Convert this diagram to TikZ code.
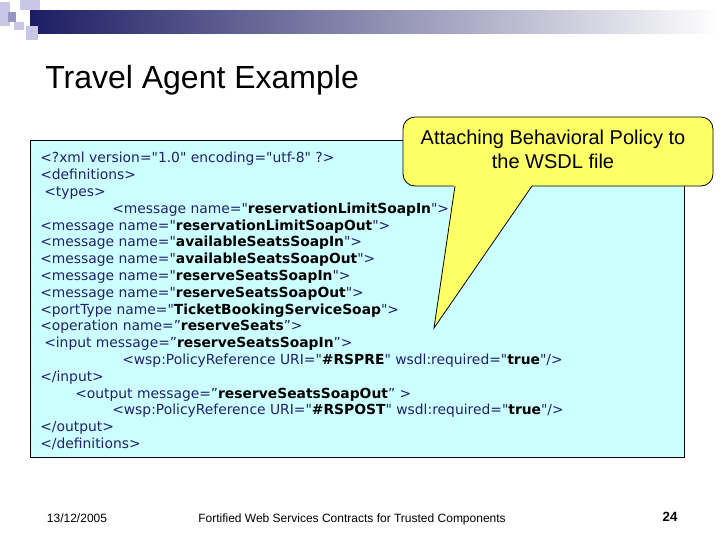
\documentclass[tikz,border=0pt]{standalone}
\usepackage{fontspec}
\setmainfont{Liberation Sans}
\newfontfamily\codefont{DejaVu Sans}
\definecolor{navy}{HTML}{20206F}
\definecolor{cyanbg}{HTML}{CCFFFF}
\definecolor{callout}{HTML}{FFFF66}
\definecolor{sq}{HTML}{C8C8E6}
\begin{document}
\begin{tikzpicture}[x=0.75pt,y=-0.75pt,
  code/.style={anchor=base west,inner sep=0pt,font=\codefont\fontsize{10.4}{12}\selectfont,text=navy},
  foot/.style={anchor=base,inner sep=0pt,font=\fontsize{9}{11}\selectfont}]
\useasboundingbox (0,0) rectangle (720,540);
% banner
\shade[left color=navy!90!black,right color=white] (30,10) rectangle (720,33);
\fill[sq] (0,2) rectangle (10,26);
\fill[sq] (20,0) rectangle (40,10);
\fill[sq] (26,26) rectangle (38,40);
\fill[sq!70!navy] (8,12) rectangle (16,22);
\fill[sq] (14,22) rectangle (24,30);
\node[anchor=base west,inner sep=0pt,font=\fontsize{24}{28}\selectfont] (title) at (45,88) {Travel Agent Example};
% code box
\draw[fill=cyanbg,line width=0.6pt] (30,140) rectangle (684,457);
\def\L#1{\textbf{\color{black}#1}}
\node[code] (l1) at (40,162) {<?xml version="1.0" encoding="utf-8" ?>};
\node[code] (l2) at (40,179) {<definitions>};
\node[code] (l3) at (44,196) {<types>};
\node[code] (l4) at (112,213) {<message name="\L{reservationLimitSoapIn}">};
\node[code] (l5) at (40,230) {<message name="\L{reservationLimitSoapOut}">};
\node[code] (l6) at (40,246) {<message name="\L{availableSeatsSoapIn}">};
\node[code] (l7) at (40,263) {<message name="\L{availableSeatsSoapOut}">};
\node[code] (l8) at (40,280) {<message name="\L{reserveSeatsSoapIn}">};
\node[code] (l9) at (40,297) {<message name="\L{reserveSeatsSoapOut}">};
\node[code] (l10) at (40,314) {<portType name="\L{TicketBookingServiceSoap}">};
\node[code] (l11) at (40,330) {<operation name=”\L{reserveSeats}”>};
\node[code] (l12) at (44,347) {<input message=”\L{reserveSeatsSoapIn}”>};
\node[code] (l13) at (122,364) {<wsp:PolicyReference URI="\L{\#RSPRE}" wsdl:required="\L{true}"/>};
\node[code] (l14) at (40,381) {</input>};
\node[code] (l15) at (75,398) {<output message=”\L{reserveSeatsSoapOut}” >};
\node[code] (l16) at (112,414) {<wsp:PolicyReference URI="\L{\#RSPOST}" wsdl:required="\L{true}"/>};
\node[code] (l17) at (40,431) {</output>};
\node[code] (l18) at (40,448) {</definitions>};
% callout
\draw[fill=callout,line width=0.6pt,rounded corners=9] (455,186) -- (403,186) -- (403,117) -- (713,117) -- (713,186) -- (532,186);
\fill[callout] (454,185) -- (434,328) -- (532,185) -- cycle;
\draw[line width=0.6pt] (455,186) -- (434,328) -- (532,186);
\node[align=center,inner sep=0pt,font=\fontsize{15}{18}\selectfont] (ct) at (553,149) {Attaching Behavioral Policy to\\the WSDL file};
% footer
\node[foot] (date) at (77,522) {13/12/2005};
\node[foot] (ftitle) at (352,522) {Fortified Web Services Contracts for Trusted Components};
\node[foot,font=\bfseries\fontsize{10}{12}\selectfont] (page) at (670,521) {24};
\end{tikzpicture}
\end{document}
